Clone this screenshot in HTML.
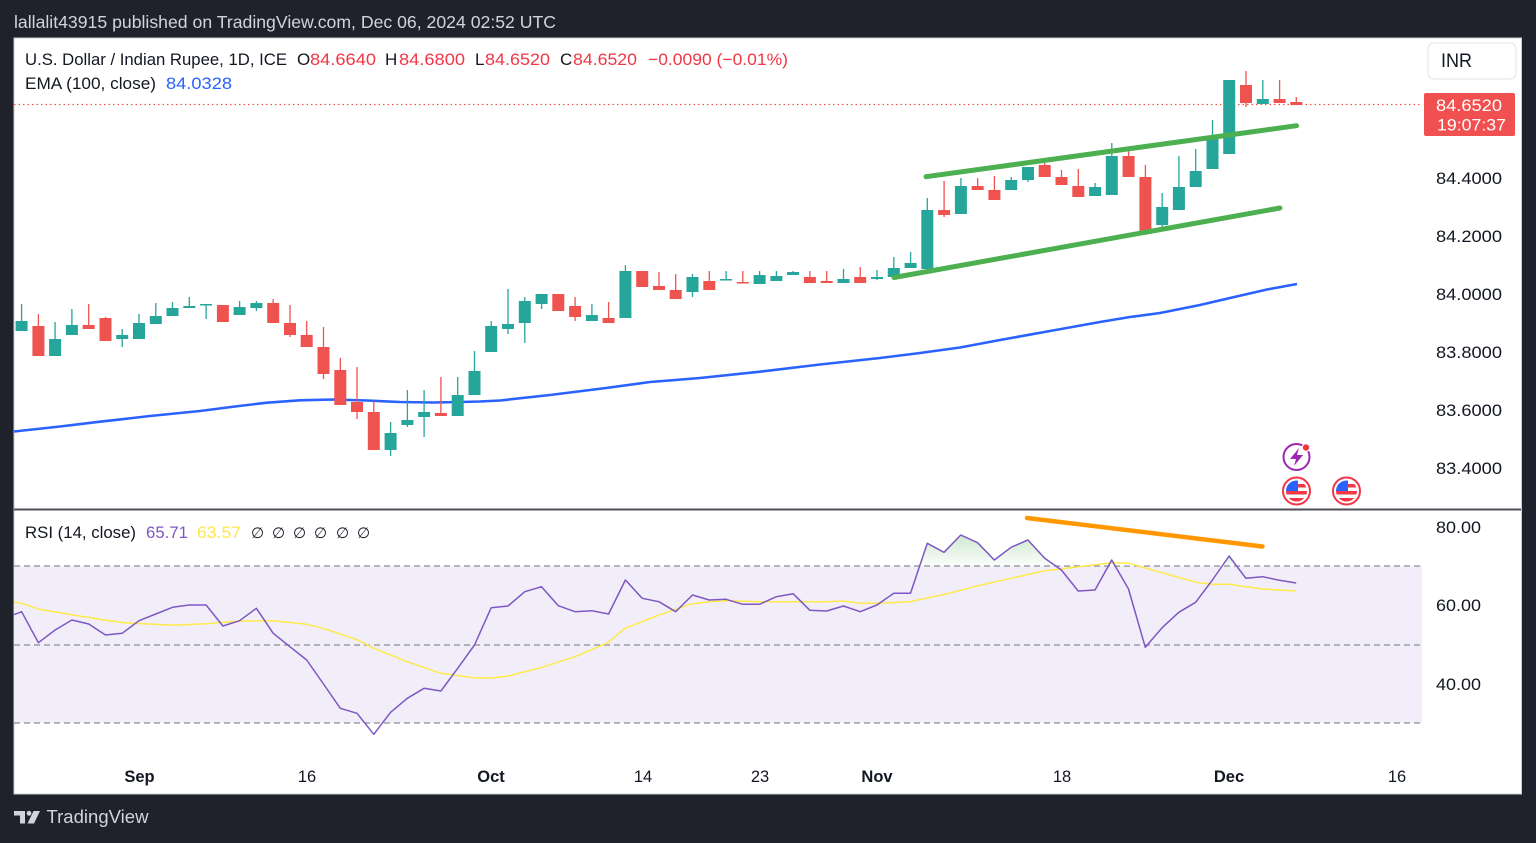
<!DOCTYPE html>
<html><head><meta charset="utf-8"><style>
html,body{margin:0;padding:0;background:#1f222a;}
svg{display:block;font-family:"Liberation Sans",Arial,sans-serif;}
</style></head><body>
<svg width="1536" height="843" viewBox="0 0 1536 843" xmlns="http://www.w3.org/2000/svg">
<defs>
<clipPath id="cp"><rect x="14" y="38" width="1408" height="471"/></clipPath>
<clipPath id="cr"><rect x="14" y="511" width="1408" height="245"/></clipPath>
<linearGradient id="gg" x1="0" y1="0" x2="0" y2="1"><stop offset="0" stop-color="#4caf50" stop-opacity="0.28"/><stop offset="1" stop-color="#4caf50" stop-opacity="0.02"/></linearGradient>
<clipPath id="f1"><circle cx="1296.5" cy="491" r="10.5"/></clipPath>
<clipPath id="f2"><circle cx="1346.5" cy="491" r="10.5"/></clipPath>
</defs>
<rect x="0" y="0" width="1536" height="843" fill="#1f222a"/>
<text x="14" y="28" font-size="17.5" fill="#d1d4dc" textLength="542" lengthAdjust="spacingAndGlyphs">lallalit43915 published on TradingView.com, Dec 06, 2024 02:52 UTC</text>
<rect x="14" y="38" width="1507.5" height="756" fill="#ffffff" stroke="#c9ccd3" stroke-width="1"/>

<!-- price pane -->
<line x1="14" y1="104.5" x2="1422" y2="104.5" stroke="#ef5350" stroke-width="1.2" stroke-dasharray="1.5,3"/>
<g clip-path="url(#cp)">
<polyline fill="none" stroke="#2962ff" stroke-width="2.6" stroke-linejoin="round" points="14,431.5 60,426.5 100,421.7 150,416 200,411 235,406.5 267,402.7 300,400.3 333,399.5 367,400.5 400,402 433,402.5 460,402 480,401.5 500,400.5 550,395 606,388 650,382 700,378 760,371.7 820,364.5 880,358 920,353 960,347.5 1000,340 1050,331 1100,322 1130,317 1160,313 1200,305 1230,298 1267,289.5 1297,284"/>
<path fill="none" stroke="#26a69a" stroke-width="1.3" d="M21.6 304V331 M55.1 322V356 M71.9 309V335 M122.2 329V347 M139 314V339 M155.8 303V324 M172.5 302V316 M189.3 297V308 M206.1 304V319 M239.6 301V315 M256.4 301V311 M390.6 422V456 M407.4 390V427 M424.1 390V437 M457.7 377V416 M474.5 351V395 M491.2 321V352 M508 289V334 M524.8 297V343 M541.6 294V309 M591.9 304V321 M625.4 265V318 M692.5 274V297 M726.1 271V280.5 M759.6 271V284 M776.4 271V281 M793.1 271V275 M843.5 269V283 M877 270V280 M893.8 257V277 M910.6 252V268 M927.3 198V269 M960.9 178V214 M1011.2 177V190 M1028 167V182 M1095.1 183V196 M1111.8 143V195 M1162.2 193V227 M1178.9 156V210 M1195.7 149V187 M1212.5 120V169 M1229.2 80V154 M1262.8 80V104"/>
<path fill="#26a69a" d="M15.6 321h12v10h-12z M49.1 339h12v17h-12z M65.9 325h12v10h-12z M116.2 335h12v4h-12z M133 323h12v16h-12z M149.8 316h12v8h-12z M166.5 308h12v8h-12z M183.3 306h12v2h-12z M200.1 304h12v1.5h-12z M233.6 307h12v8h-12z M250.4 303h12v5h-12z M384.6 433h12v17h-12z M401.4 420h12v5h-12z M418.1 412h12v5h-12z M451.7 395h12v21h-12z M468.5 371h12v24h-12z M485.2 326h12v26h-12z M502 324h12v5h-12z M518.8 301h12v22h-12z M535.6 294h12v10h-12z M585.9 315h12v6h-12z M619.4 271h12v47h-12z M686.5 277h12v15h-12z M720.1 279h12v1.5h-12z M753.6 275h12v9h-12z M770.4 276h12v5h-12z M787.1 272h12v3h-12z M837.5 279h12v4h-12z M871 277h12v2h-12z M887.8 268h12v9h-12z M904.6 263h12v5h-12z M921.3 210h12v59h-12z M954.9 186h12v28h-12z M1005.2 180h12v10h-12z M1022 167h12v13h-12z M1089.1 187h12v9h-12z M1105.8 156h12v39h-12z M1156.2 207h12v18h-12z M1172.9 187h12v23h-12z M1189.7 171h12v16h-12z M1206.5 137h12v32h-12z M1223.2 80h12v74h-12z M1256.8 99h12v5h-12z"/>
<path fill="none" stroke="#ef5350" stroke-width="1.3" d="M38.4 314V356 M88.7 304V329 M105.5 317V341 M222.9 305V322 M273.2 299V323 M290 305V337 M306.7 321V347 M323.5 327V379 M340.3 358V405 M357 367V419 M373.8 401V450 M440.9 377V416 M558.3 294V311 M575.1 297V321 M608.6 302V323 M642.2 271V287 M659 272V290 M675.7 274V299 M709.3 271V290 M742.8 271V283.5 M809.9 271V283 M826.7 271V283 M860.2 267V283 M944.1 181V217 M977.7 178V190 M994.4 176V200 M1044.7 161V177 M1061.5 170V185 M1078.3 169V197 M1128.6 148V177 M1145.4 165V231 M1246 71V107 M1279.6 80V103 M1296.3 97V105"/>
<path fill="#ef5350" d="M32.4 326h12v30h-12z M82.7 325h12v4h-12z M99.5 318h12v23h-12z M216.9 305h12v17h-12z M267.2 303h12v20h-12z M284 323h12v12h-12z M300.7 335h12v12h-12z M317.5 347h12v27h-12z M334.3 370h12v35h-12z M351 402h12v10h-12z M367.8 412h12v38h-12z M434.9 413h12v3h-12z M552.3 294h12v17h-12z M569.1 306h12v11h-12z M602.6 318h12v5h-12z M636.2 271h12v16h-12z M653 286h12v4h-12z M669.7 290h12v9h-12z M703.3 281h12v9h-12z M736.8 282h12v1.5h-12z M803.9 277h12v6h-12z M820.7 281h12v2h-12z M854.2 277h12v6h-12z M938.1 210h12v5h-12z M971.7 186h12v4h-12z M988.4 190h12v10h-12z M1038.7 165h12v12h-12z M1055.5 177h12v8h-12z M1072.3 186h12v11h-12z M1122.6 156h12v21h-12z M1139.4 177h12v54h-12z M1240 85h12v18h-12z M1273.6 99h12v4h-12z M1290.3 102h12v3h-12z"/>
</g>
<line x1="926" y1="176.7" x2="1296.5" y2="125.7" stroke="#4caf50" stroke-width="5" stroke-linecap="round"/>
<line x1="894" y1="277.5" x2="1280" y2="208" stroke="#4caf50" stroke-width="5" stroke-linecap="round"/>

<!-- legend -->
<g font-size="17" fill="#131722">
<text x="25" y="65" textLength="262" lengthAdjust="spacingAndGlyphs">U.S. Dollar / Indian Rupee, 1D, ICE</text>
<text x="297" y="65">O</text>
<text x="310" y="65" fill="#f23645" textLength="66" lengthAdjust="spacingAndGlyphs">84.6640</text>
<text x="385" y="65">H</text>
<text x="399" y="65" fill="#f23645" textLength="66" lengthAdjust="spacingAndGlyphs">84.6800</text>
<text x="475" y="65">L</text>
<text x="485" y="65" fill="#f23645" textLength="65" lengthAdjust="spacingAndGlyphs">84.6520</text>
<text x="560" y="65">C</text>
<text x="573" y="65" fill="#f23645" textLength="64" lengthAdjust="spacingAndGlyphs">84.6520</text>
<text x="648" y="65" fill="#f23645" textLength="140" lengthAdjust="spacingAndGlyphs">−0.0090 (−0.01%)</text>
<text x="25" y="89" textLength="131" lengthAdjust="spacingAndGlyphs">EMA (100, close)</text>
<text x="166" y="89" fill="#2962ff" textLength="66" lengthAdjust="spacingAndGlyphs">84.0328</text>
</g>

<!-- price axis -->
<rect x="1428" y="43" width="88" height="36" rx="6" fill="#fff" stroke="#e0e3eb" stroke-width="1"/>
<text x="1441" y="67" font-size="19" fill="#131722" textLength="31" lengthAdjust="spacingAndGlyphs">INR</text>
<g font-size="16.5" fill="#131722">
<text x="1436" y="184" textLength="66" lengthAdjust="spacingAndGlyphs">84.4000</text>
<text x="1436" y="242" textLength="66" lengthAdjust="spacingAndGlyphs">84.2000</text>
<text x="1436" y="300" textLength="66" lengthAdjust="spacingAndGlyphs">84.0000</text>
<text x="1436" y="358" textLength="66" lengthAdjust="spacingAndGlyphs">83.8000</text>
<text x="1436" y="416" textLength="66" lengthAdjust="spacingAndGlyphs">83.6000</text>
<text x="1436" y="474" textLength="66" lengthAdjust="spacingAndGlyphs">83.4000</text>
<text x="1436" y="533" textLength="45" lengthAdjust="spacingAndGlyphs">80.00</text>
<text x="1436" y="611" textLength="45" lengthAdjust="spacingAndGlyphs">60.00</text>
<text x="1436" y="690" textLength="45" lengthAdjust="spacingAndGlyphs">40.00</text>
</g>
<rect x="1424" y="93" width="91" height="43" rx="2" fill="#f0504f"/>
<text x="1436" y="111" font-size="16.5" fill="#fff" textLength="66" lengthAdjust="spacingAndGlyphs">84.6520</text>
<text x="1437" y="130.5" font-size="16.5" fill="#fff" textLength="69" lengthAdjust="spacingAndGlyphs">19:07:37</text>

<!-- icons -->
<circle cx="1296.5" cy="457" r="13" fill="#fff" stroke="#9c27b0" stroke-width="2"/>
<polygon points="1299,448 1290,459 1296,459 1294,466 1303,455 1297,455" fill="#9c27b0"/>
<circle cx="1306" cy="447.5" r="3.8" fill="#f23645" stroke="#fff" stroke-width="1.2"/>
<g>
<circle cx="1296.5" cy="491" r="13.5" fill="#fff" stroke="#f23645" stroke-width="2"/>
<g clip-path="url(#f1)">
<rect x="1285" y="480" width="24" height="24" fill="#fff"/>
<rect x="1285" y="484" width="24" height="3.5" fill="#f23645"/>
<rect x="1285" y="491" width="24" height="3.5" fill="#f23645"/>
<rect x="1285" y="498" width="24" height="4" fill="#f23645"/>
<rect x="1285" y="480" width="13" height="11" fill="#2962ff"/>
</g>
<circle cx="1346.5" cy="491" r="13.5" fill="#fff" stroke="#f23645" stroke-width="2"/>
<g clip-path="url(#f2)">
<rect x="1335" y="480" width="24" height="24" fill="#fff"/>
<rect x="1335" y="484" width="24" height="3.5" fill="#f23645"/>
<rect x="1335" y="491" width="24" height="3.5" fill="#f23645"/>
<rect x="1335" y="498" width="24" height="4" fill="#f23645"/>
<rect x="1335" y="480" width="13" height="11" fill="#2962ff"/>
</g>
</g>

<!-- separator -->
<line x1="14" y1="509.5" x2="1521" y2="509.5" stroke="#4d5059" stroke-width="2"/>

<!-- RSI pane -->
<rect x="14" y="566" width="1408" height="157" fill="#f2eef9"/>
<g stroke="#8a8d96" stroke-width="1.3" stroke-dasharray="6,4">
<line x1="14" y1="566" x2="1422" y2="566"/>
<line x1="14" y1="645" x2="1422" y2="645"/>
<line x1="14" y1="723" x2="1422" y2="723"/>
</g>
<g clip-path="url(#cr)">
<polygon fill="url(#gg)" points="920.2,566 927,543.3 944,552.3 961,535 978,542.7 994,560 1011,547.3 1028,540 1045,558.3 1055.8,566"/>
<polygon fill="url(#gg)" points="1108.5,566 1112,560 1115.4,566"/>
<polygon fill="url(#gg)" points="1222.2,566 1229,556 1236.7,566"/>
<polyline fill="none" stroke="#fdea4a" stroke-width="1.5" stroke-linejoin="round" points="13,602.3 22,603.3 39,609.3 73,615 123,622.7 173,625.3 206,623.7 240,621 273,620.7 307,624.3 323,628.3 340,634 357,639.7 374,648.3 407,661.7 441,673.3 474,677.7 491,678 508,676 541,667.7 575,656.7 608,642.7 625,628.3 659,615 692,603.7 710,601.7 727,600.7 760,601.7 793,601.7 827,601.7 843,601 860,603.3 877,603.3 910,601.7 945,594.3 978,585.7 1011,578.3 1045,570.7 1079,566.7 1112,562.7 1129,563.3 1162,572.7 1196,582.3 1212,584.3 1229,584.3 1262,589 1296,591"/>
<polyline fill="none" stroke="#7e57c2" stroke-width="1.5" stroke-linejoin="round" points="13,615 21.6,611.7 38.4,642.7 55.1,630 71.9,620 88.7,624 105.5,635 122.2,633.3 139,620.7 155.8,614 172.5,607.3 189.3,605 206.1,605 222.9,626 239.6,620.7 256.4,608.3 273.2,633.3 289.9,646.7 306.7,660 323.5,684 340.3,708.3 357,713.3 373.8,734.3 390.6,712.3 407.3,698.3 424.1,688.3 440.9,691 457.7,668.3 474.5,645 491.2,607.7 508,606 524.8,591.7 541.5,586.7 558.3,605.7 575.1,611.7 591.8,610.7 608.6,614 625.4,580 642.2,598.3 658.9,601.7 675.7,611.7 692.5,595 709.2,600 726,599.3 742.8,604.3 759.5,604.3 776.3,596.7 793.1,593.7 809.9,610.3 826.6,611 843.4,606 860.2,611.7 876.9,605 893.7,593.3 910.5,593.3 927.3,543.3 944,552.3 960.8,535 977.6,542.7 994.3,560 1011.1,547.3 1027.9,540 1044.7,558.3 1061.4,570 1078.2,591 1095,590 1111.7,560 1128.5,589 1145.3,647.3 1162.1,627.7 1178.8,612.3 1195.6,602.3 1212.4,580 1229.1,556 1245.9,578.3 1262.7,576.7 1279.4,580.3 1296.2,583"/>
</g>
<line x1="1027" y1="518" x2="1262.5" y2="546.5" stroke="#ff9800" stroke-width="4.5" stroke-linecap="round"/>
<g font-size="16.5" fill="#131722">
<text x="25" y="538" textLength="111" lengthAdjust="spacingAndGlyphs">RSI (14, close)</text>
<text x="146" y="538" fill="#7e57c2" textLength="42" lengthAdjust="spacingAndGlyphs">65.71</text>
<text x="197" y="538" fill="#fde74c" textLength="44" lengthAdjust="spacingAndGlyphs">63.57</text>
<text x="251" y="538" font-size="15">∅</text>
<text x="272" y="538" font-size="15">∅</text>
<text x="293" y="538" font-size="15">∅</text>
<text x="314" y="538" font-size="15">∅</text>
<text x="336" y="538" font-size="15">∅</text>
<text x="357" y="538" font-size="15">∅</text>
</g>

<!-- time axis -->
<g font-size="16.5" fill="#131722" text-anchor="middle">
<text x="139.5" y="782" font-weight="bold">Sep</text>
<text x="307" y="782">16</text>
<text x="491" y="782" font-weight="bold">Oct</text>
<text x="643" y="782">14</text>
<text x="760" y="782">23</text>
<text x="877" y="782" font-weight="bold">Nov</text>
<text x="1062" y="782">18</text>
<text x="1229" y="782" font-weight="bold">Dec</text>
<text x="1397" y="782">16</text>
</g>

<!-- footer -->
<g fill="#d1d4dc">
<path d="M14 811 H25 V823.5 H20 V815.5 H14 Z"/>
<circle cx="29" cy="813.3" r="2.4"/>
<path d="M33.5 811 H40 L34 823.5 H27.5 Z"/>
</g>
<text x="46.5" y="823" font-size="18" fill="#d1d4dc" textLength="102" lengthAdjust="spacingAndGlyphs">TradingView</text>
</svg>
</body></html>
